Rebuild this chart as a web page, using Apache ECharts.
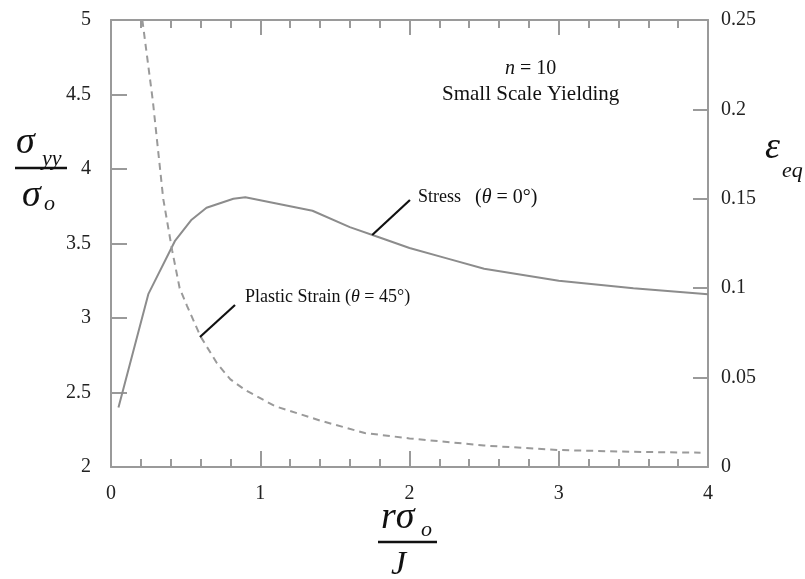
<!DOCTYPE html>
<html>
<head>
<meta charset="utf-8">
<script src="https://cdn.jsdelivr.net/npm/echarts@6/dist/echarts.min.js"></script>
<style>
  html, body { margin: 0; padding: 0; background: #fff; }
  #chart { width: 805px; height: 579px; }
</style>
</head>
<body>
<div id="chart"></div>
<script>
// stress (left axis) vs r*sigma_o/J
const stressX = [0.05, 0.25, 0.43, 0.54, 0.64, 0.73, 0.82, 0.9, 1.1, 1.35, 1.6, 1.8, 2.0, 2.25, 2.5, 3.0, 3.5, 4.0];
const stressY = [2.4, 3.16, 3.52, 3.66, 3.74, 3.77, 3.8, 3.81, 3.77, 3.72, 3.61, 3.54, 3.47, 3.4, 3.33, 3.25, 3.2, 3.16];

// plastic strain (right axis)
const strainX = [0.21, 0.28, 0.35, 0.41, 0.46, 0.51, 0.6, 0.71, 0.8, 0.9, 1.1, 1.4, 1.7, 2.0, 2.5, 3.0, 3.5, 3.95];
const strainY = [0.25, 0.205, 0.15, 0.121, 0.1, 0.09, 0.073, 0.058, 0.049, 0.043, 0.034, 0.026, 0.019, 0.016, 0.012, 0.0095, 0.0085, 0.008];

// leader lines for the two labels, in data coordinates
const stressLeader = [[1.75, 3.557], [2.003, 3.792]];
const strainLeader = [[0.596, 0.0727], [0.831, 0.0906]];

const serif = '"Liberation Serif", "DejaVu Serif", serif';
const axisGray = '#9a9a9a';

const chart = echarts.init(document.getElementById('chart'));

const tickStyle = { color: axisGray, width: 2 };
const lineStyle = { color: axisGray, width: 2 };

chart.setOption({
    animation: false,
    grid: { left: 111, right: 97, top: 20, bottom: 112 },
    xAxis: [
        {
            type: 'value', min: 0, max: 4, interval: 1, position: 'bottom',
            axisLine: { show: true, onZero: false, lineStyle: lineStyle },
            axisTick: { show: true, inside: true, length: 16, lineStyle: tickStyle },
            minorTick: { show: true, splitNumber: 5, length: 8, lineStyle: tickStyle },
            axisLabel: { color: '#222', fontFamily: serif, fontSize: 20, margin: 17 },
            splitLine: { show: false },
        },
        {
            type: 'value', min: 0, max: 4, interval: 1, position: 'top',
            axisLine: { show: true, onZero: false, lineStyle: lineStyle },
            axisTick: { show: true, inside: true, length: 15, lineStyle: tickStyle },
            minorTick: { show: true, splitNumber: 5, length: 8, lineStyle: tickStyle },
            axisLabel: { show: false },
            splitLine: { show: false },
        },
    ],
    yAxis: [
        {
            type: 'value', min: 2, max: 5, interval: 0.5, position: 'left',
            axisLine: { show: true, onZero: false, lineStyle: lineStyle },
            axisTick: { show: true, inside: true, length: 16, lineStyle: tickStyle },
            axisLabel: { color: '#222', fontFamily: serif, fontSize: 20, margin: 20 },
            splitLine: { show: false },
        },
        {
            type: 'value', min: 0, max: 0.25, interval: 0.05, position: 'right',
            axisLine: { show: true, onZero: false, lineStyle: lineStyle },
            axisTick: { show: true, inside: true, length: 15, lineStyle: tickStyle },
            axisLabel: { color: '#222', fontFamily: serif, fontSize: 20, margin: 13 },
            splitLine: { show: false },
        },
    ],
    series: [
        {
            name: 'Stress',
            type: 'line',
            yAxisIndex: 0,
            data: stressX.map((x, i) => [x, stressY[i]]),
            symbol: 'none',
            lineStyle: { color: '#8c8c8c', width: 2 },
            markLine: {
                silent: true, symbol: 'none', label: { show: false },
                lineStyle: { color: '#111', width: 2.2, type: 'solid' },
                data: [[{ coord: stressLeader[0] }, { coord: stressLeader[1] }]],
            },
        },
        {
            name: 'Plastic Strain',
            type: 'line',
            yAxisIndex: 1,
            data: strainX.map((x, i) => [x, strainY[i]]),
            symbol: 'none',
            lineStyle: { color: '#9a9a9a', width: 2, type: [7, 5] },
            markLine: {
                silent: true, symbol: 'none', label: { show: false },
                lineStyle: { color: '#111', width: 2.2, type: 'solid' },
                data: [[{ coord: strainLeader[0] }, { coord: strainLeader[1] }]],
            },
        },
    ],
    graphic: [
        // left axis title: sigma_yy / sigma_o
        { type: 'text', left: 16, top: 124, style: { text: 'σ', font: 'italic 38px ' + serif, fill: '#111' } },
        { type: 'text', left: 42, top: 148, style: { text: 'yy', font: 'italic 22px ' + serif, fill: '#111' } },
        { type: 'line', shape: { x1: 15, y1: 168, x2: 67, y2: 168 }, style: { stroke: '#111', lineWidth: 2.5 } },
        { type: 'text', left: 22, top: 177, style: { text: 'σ', font: 'italic 38px ' + serif, fill: '#111' } },
        { type: 'text', left: 44, top: 193, style: { text: 'o', font: 'italic 22px ' + serif, fill: '#111' } },
        // right axis title: epsilon_eq
        { type: 'text', left: 765, top: 129, style: { text: 'ε', font: 'italic 38px ' + serif, fill: '#111' } },
        { type: 'text', left: 782, top: 160, style: { text: 'eq', font: 'italic 22px ' + serif, fill: '#111' } },
        // bottom axis title: r sigma_o / J
        { type: 'text', left: 381, top: 499, style: { text: 'rσ', font: 'italic 38px ' + serif, fill: '#111' } },
        { type: 'text', left: 421, top: 519, style: { text: 'o', font: 'italic 22px ' + serif, fill: '#111' } },
        { type: 'line', shape: { x1: 378, y1: 542, x2: 437, y2: 542 }, style: { stroke: '#111', lineWidth: 2.5 } },
        { type: 'text', left: 391, top: 548, style: { text: 'J', font: 'italic 34px ' + serif, fill: '#111' } },
        // annotations
        {
            type: 'text', left: 505, top: 59,
            style: {
                text: '{i|n} = 10', fill: '#111', font: '20px ' + serif,
                rich: { i: { fontStyle: 'italic', fontFamily: serif, fontSize: 20 } },
            },
        },
        { type: 'text', left: 442, top: 84, style: { text: 'Small Scale Yielding', font: '21px ' + serif, fill: '#111' } },
        { type: 'text', left: 418, top: 188, style: { text: 'Stress', font: '18px ' + serif, fill: '#111' } },
        {
            type: 'text', left: 475, top: 188,
            style: {
                text: '({i|θ} = 0°)', fill: '#111', font: '20px ' + serif,
                rich: { i: { fontStyle: 'italic', fontFamily: serif, fontSize: 20 } },
            },
        },
        {
            type: 'text', left: 245, top: 288,
            style: {
                text: 'Plastic Strain ({i|θ} = 45°)', fill: '#111', font: '18px ' + serif,
                rich: { i: { fontStyle: 'italic', fontFamily: serif, fontSize: 18 } },
            },
        },
    ],
});
</script>
</body>
</html>
